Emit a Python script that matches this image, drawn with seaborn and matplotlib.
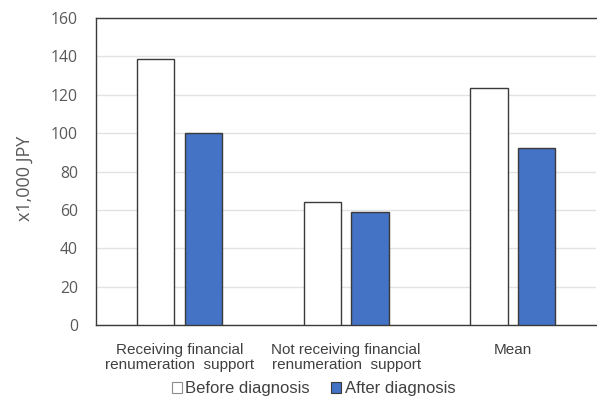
import numpy as np
import pandas as pd
import matplotlib
matplotlib.use('Agg')
import matplotlib.pyplot as plt
import seaborn as sns
from matplotlib.patches import Patch

# data
categories = ['Receiving financial\nrenumeration  support',
              'Not receiving financial\nrenumeration  support',
              'Mean']
before_diag = [138.5, 64.2, 123.3]
after_diag = [100.0, 58.9, 92.1]
series_names = ['Before diagnosis', 'After diagnosis']
y_ticks = [0, 20, 40, 60, 80, 100, 120, 140, 160]

df = pd.DataFrame({
    'cat': categories * 2,
    'series': [series_names[0]] * 3 + [series_names[1]] * 3,
    'value': before_diag + after_diag,
})

sns.set_style('white')
plt.rcParams['font.family'] = ['Liberation Sans', 'DejaVu Sans']

fig = plt.figure(figsize=(5.97, 4.01), dpi=100)
ax = fig.add_axes([0.1608, 0.1895, 0.838, 0.7655])

palette = {'Before diagnosis': '#ffffff', 'After diagnosis': '#4472c4'}
sns.barplot(data=df, x='cat', y='value', hue='series', palette=palette,
            width=0.573, gap=0.22, edgecolor='#3a3a3a', linewidth=1.0,
            saturation=1, legend=False, ax=ax, zorder=3)

ax.set_ylim(0, 160)
ax.set_xlim(-0.5, 2.5)
ax.set_yticks(y_ticks)
ax.yaxis.grid(True, color='#e3e3e3', lw=1.0, zorder=0)
ax.set_axisbelow(True)
for side in ['left', 'top', 'bottom']:
    ax.spines[side].set_color('#3a3a3a')
    ax.spines[side].set_linewidth(1.0)
ax.spines['right'].set_visible(False)

ax.tick_params(axis='y', length=0, pad=13, labelsize=11.3, labelcolor='#595959',
               labelfontfamily='Open Sans')
ax.tick_params(axis='x', length=0, pad=13, labelsize=11, labelcolor='#404040')
for lbl in ax.get_xticklabels():
    lbl.set_linespacing(1.05)
ax.set_xlabel('')
ax.set_ylabel('')
fig.text(0.041, 0.556, 'x1,000 JPY', rotation=90, ha='center', va='center',
         fontsize=13, color='#595959', family=['Open Sans', 'DejaVu Sans'])

handles = [Patch(facecolor='#ffffff', edgecolor='#8c8c8c', lw=0.8),
           Patch(facecolor='#4472c4', edgecolor='#3a3a3a', lw=0.8)]
fig.legend(handles, series_names, loc='center', bbox_to_anchor=(0.525, 0.030),
           ncol=2, frameon=False, fontsize=12, handlelength=0.6,
           handleheight=0.6, handletextpad=0.2, columnspacing=1.3,
           labelcolor='#404040')

fig.savefig('out.png', dpi=100)
